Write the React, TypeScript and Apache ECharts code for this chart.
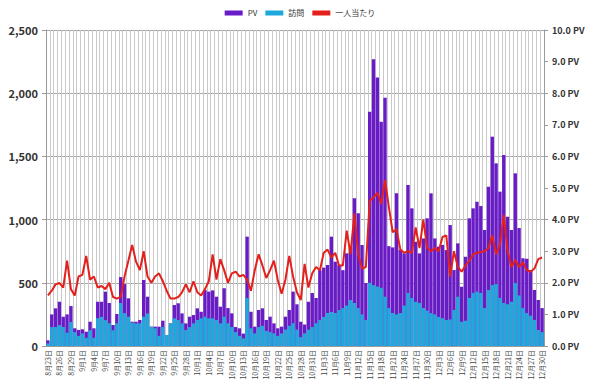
import React, { useEffect, useRef } from "react";
import * as echarts from "echarts";

// Dates Aug 23 – Dec 30
const months = [8, 9, 10, 11, 12];
const monthDays = [31, 30, 31, 30, 31];
const categories: string[] = [];
(() => {
  let m = 0;
  let d = 23;
  while (categories.length < 130) {
    categories.push(`${months[m]}月${d}日`);
    d++;
    if (d > monthDays[m]) {
      d = 1;
      m++;
    }
  }
})();

const pv = [
  45, 250, 298, 350, 232, 250, 316, 140, 127, 132, 113, 192, 140, 350, 350, 430, 340, 166, 253, 545, 490, 377,
  192, 192, 206, 522, 390, 153, 153, 153, 200, 87, 179, 324, 338, 258, 179, 232, 245, 298, 271, 443, 430,
  440, 390, 311, 457, 300, 258, 150, 140, 98, 865, 271, 153, 285, 298, 206, 232, 179, 140, 153, 232, 285, 430, 330,
  192, 170, 350, 419, 380, 600, 620, 641, 865, 667, 640, 600, 733, 773, 1168, 1050, 799, 498,
  1853, 2268, 2125, 1774, 1964, 790, 780, 1208, 760, 733, 1274, 1089, 825, 733, 851, 1010, 1208, 851, 786, 800, 759, 957,
  601, 812, 469, 706, 1010, 1089, 1141, 1107, 918, 1260, 1656, 1445, 1221, 1511, 1023, 918, 1366, 933, 694, 690, 601, 443, 364, 300,
];

const visits = [
  20, 150, 150, 165, 150, 105, 190, 110, 80, 100, 65, 125, 65, 220, 230, 205, 180, 125, 180, 340, 260, 232,
  185, 179, 179, 232, 258, 153, 140, 80, 150, 87, 179, 219, 206, 179, 127, 150, 179, 206, 219, 232, 219,
  219, 206, 179, 232, 180, 150, 110, 80, 60, 380, 140, 100, 150, 160, 120, 110, 100, 80, 100, 130, 160, 180, 130,
  70, 100, 130, 150, 180, 206, 230, 261, 270, 261, 285, 300, 320, 364, 340, 300, 250, 206,
  500, 482, 470, 460, 390, 300, 261, 250, 261, 320, 419, 380, 350, 340, 300, 280, 260, 250, 230, 220, 206, 210,
  285, 390, 192, 200, 380, 420, 430, 420, 300, 443, 482, 490, 380, 340, 330, 350, 498, 400, 300, 261, 240, 206, 127, 110,
];

const perPerson = [
  1.6, 1.75, 1.95, 2.0, 1.85, 2.7, 1.8, 1.6, 2.2, 2.25, 2.85, 2.1, 2.2, 1.85, 1.9, 1.8, 2.0, 1.55, 1.5, 1.55, 2.2, 2.7,
  3.2, 2.67, 2.4, 3.0, 2.2, 2.0, 2.2, 2.3, 2.05, 1.75, 1.5, 1.5, 1.55, 1.7, 1.95, 1.7, 2.05, 1.7, 1.6, 1.8, 2.05,
  2.9, 2.1, 2.75, 2.4, 2.0, 2.3, 2.35, 2.2, 2.25, 2.1, 1.75, 2.4, 2.9, 2.55, 2.15, 2.4, 2.7, 2.1, 1.65, 2.1, 2.85, 2.2, 1.7,
  1.45, 2.6, 1.85, 2.3, 2.5, 2.4, 2.95, 3.05, 2.8, 2.95, 2.55, 2.55, 3.65, 2.9, 4.2, 2.9, 2.45, 2.5,
  4.6, 4.7, 4.85, 4.5, 5.25, 4.4, 3.6, 3.7, 3.05, 2.95, 3.0, 2.95, 3.75, 3.1, 4.0, 3.1, 3.0, 3.1, 3.0, 3.45, 3.5, 2.2,
  3.0, 2.5, 2.35, 2.55, 2.7, 2.9, 2.95, 2.97, 3.0, 3.1, 3.5, 2.9, 3.2, 4.15, 3.0, 2.5, 2.72, 2.5, 2.65, 2.4, 2.35, 2.45, 2.75, 2.8,
];

const seriesNames = ["PV", "訪問", "一人当たり"];
const leftTicks = [0, 2500, 500];
const rightTicks = [0, 10, 1];

const PURPLE = "#6a1bc8";
const BLUE = "#1fa8db";
const RED = "#e3201c";
const FONT = "'Noto Sans CJK JP', 'Noto Sans', sans-serif";

export default function App() {
  const ref = useRef<HTMLDivElement>(null);
  useEffect(() => {
    if (!ref.current) return;
    const chart = echarts.init(ref.current, undefined, { renderer: "svg" });
    chart.setOption({
      animation: false,
      backgroundColor: "#ffffff",
      textStyle: { fontFamily: FONT },
      legend: {
        top: 4,
        left: "center",
        itemWidth: 18,
        itemHeight: 5,
        itemGap: 8,
        textStyle: { fontSize: 8, color: "#333", fontFamily: FONT },
        data: [
          { name: seriesNames[0], icon: "rect" },
          { name: seriesNames[1], icon: "rect" },
          { name: seriesNames[2], icon: "rect", itemStyle: { color: RED } },
        ],
      },
      grid: { left: 46, right: 56, top: 30, bottom: 45 },
      xAxis: {
        type: "category",
        data: categories,
        boundaryGap: true,
        axisLine: { lineStyle: { color: "#9a9a9a" } },
        axisTick: { show: false },
        axisLabel: {
          interval: 2,
          rotate: 90,
          fontSize: 7,
          color: "#444",
          fontFamily: FONT,
          margin: 4,
        },
        splitLine: { show: true, interval: 0, lineStyle: { color: "#c9c9c9", width: 1 } },
      },
      yAxis: [
        {
          type: "value",
          min: leftTicks[0],
          max: leftTicks[1],
          interval: leftTicks[2],
          axisLine: { show: true, lineStyle: { color: "#9a9a9a" } },
          axisTick: { show: true, length: 4, lineStyle: { color: "#9a9a9a" } },
          axisLabel: {
            fontSize: 11,
            fontWeight: "bold",
            color: "#333",
            margin: 8,
            formatter: (v: number) => v.toLocaleString("en-US"),
          },
          splitLine: { show: true, lineStyle: { color: "#a8a8a8", width: 1 } },
        },
        {
          type: "value",
          min: rightTicks[0],
          max: rightTicks[1],
          interval: rightTicks[2],
          position: "right",
          axisLine: { show: true, lineStyle: { color: "#9a9a9a" } },
          axisTick: { show: true, length: 4, lineStyle: { color: "#9a9a9a" } },
          axisLabel: {
            fontSize: 9,
            fontWeight: "bold",
            color: "#333",
            margin: 8,
            formatter: (v: number) => `${v.toFixed(1)} PV`,
          },
          splitLine: { show: false },
        },
      ],
      series: [
        {
          name: seriesNames[0],
          type: "bar",
          data: pv,
          barGap: "-100%",
          barCategoryGap: "12%",
          itemStyle: { color: PURPLE },
        },
        {
          name: seriesNames[1],
          type: "bar",
          data: visits,
          barGap: "-100%",
          barCategoryGap: "12%",
          itemStyle: { color: BLUE },
        },
        {
          name: seriesNames[2],
          type: "line",
          yAxisIndex: 1,
          data: perPerson,
          symbol: "none",
          lineStyle: { color: RED, width: 2 },
          itemStyle: { color: RED },
        },
      ],
    });
    return () => chart.dispose();
  }, []);
  return <div ref={ref} style={{ width: 600, height: 391, position: "absolute", left: 0, top: 0 }} />;
}
